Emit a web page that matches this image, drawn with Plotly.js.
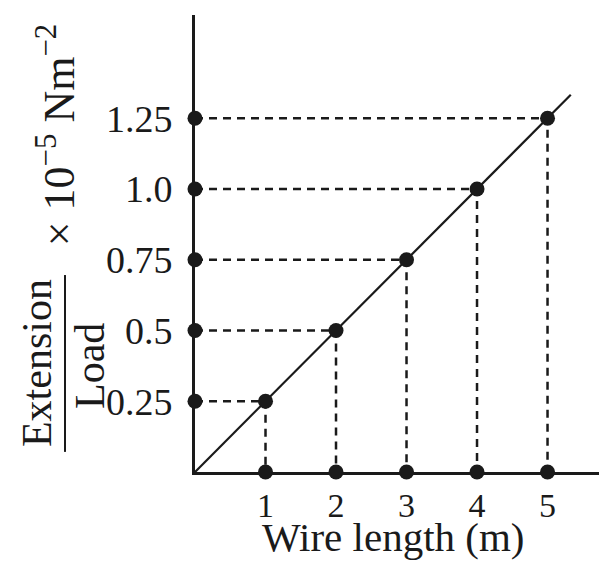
<!DOCTYPE html>
<html>
<head>
<meta charset="utf-8">
<script src="https://cdn.plot.ly/plotly-3.0.1.min.js"></script>
<style>
  html, body { margin: 0; padding: 0; background: #fff; }
  #chart { width: 614px; height: 571px; }
</style>
</head>
<body>
<div id="chart"></div>
<script>
// readings from the graph
const wireLength = [1, 2, 3, 4, 5]
const extPerLoad = [0.25, 0.5, 0.75, 1.0, 1.25]
const yTickText = ['0.25', '0.5', '0.75', '1.0', '1.25']
const fitX = [0, 5.33]
const fitY = [0, 1.333]

const serif = 'Liberation Serif, DejaVu Serif, serif'
const ink = '#1a1a1a'

let traces = []

// dashed guides from each axis to the point
for (let i = 0; i < wireLength.length; i++) {
    traces.push({
        x: [0, wireLength[i], wireLength[i]],
        y: [extPerLoad[i], extPerLoad[i], 0],
        mode: 'lines',
        line: { color: ink, width: 2.5, dash: '8px,6px' },
        hoverinfo: 'skip',
        cliponaxis: false
    })
}

// straight line through origin
traces.push({
    x: fitX,
    y: fitY,
    mode: 'lines',
    line: { color: ink, width: 2.2 },
    cliponaxis: false
})

let dot = { color: ink, size: 15 }

traces.push({ x: wireLength, y: extPerLoad, mode: 'markers', marker: dot, cliponaxis: false })
traces.push({ x: wireLength, y: wireLength.map(() => 0), mode: 'markers', marker: dot, cliponaxis: false })
traces.push({ x: extPerLoad.map(() => 0), y: extPerLoad, mode: 'markers', marker: dot, cliponaxis: false })

var layout = {
    width: 614,
    height: 571,
    margin: { l: 195, r: 15, t: 15, b: 99 },
    showlegend: false,
    paper_bgcolor: '#fff',
    plot_bgcolor: '#fff',
    font: { family: serif, color: ink },
    xaxis: {
        range: [0, 5.73],
        showgrid: false,
        zeroline: false,
        showline: true,
        linecolor: ink,
        linewidth: 3,
        tickvals: wireLength,
        ticktext: wireLength.map(String),
        ticks: 'outside',
        ticklen: 1,
        tickcolor: 'rgba(0,0,0,0)',
        tickfont: { family: serif, size: 34, color: ink }
    },
    yaxis: {
        range: [0, 1.615],
        showgrid: false,
        zeroline: false,
        showline: true,
        linecolor: ink,
        linewidth: 3,
        tickvals: extPerLoad,
        ticktext: yTickText,
        ticks: 'outside',
        ticklen: 12,
        tickcolor: 'rgba(0,0,0,0)',
        tickfont: { family: serif, size: 38, color: ink }
    },
    shapes: [{
        type: 'line', xref: 'paper', yref: 'paper',
        x0: -0.3218, x1: -0.3218, y0: 0.044, y1: 0.431,
        line: { color: ink, width: 2 }
    }],
    annotations: [
        { text: 'Wire length (m)', xref: 'paper', yref: 'paper', x: 0.49, y: -0.142,
          showarrow: false, xanchor: 'center', yanchor: 'middle',
          font: { family: serif, size: 41, color: ink } },
        { text: 'Extension', xref: 'paper', yref: 'paper', x: -0.391, y: 0.2385,
          textangle: -90, showarrow: false, xanchor: 'center', yanchor: 'middle',
          font: { family: serif, size: 42, color: ink } },
        { text: 'Load', xref: 'paper', yref: 'paper', x: -0.26, y: 0.232,
          textangle: -90, showarrow: false, xanchor: 'center', yanchor: 'middle',
          font: { family: serif, size: 42, color: ink } },
        { text: '× 10<sup>−5</sup> Nm<sup>−2</sup>', xref: 'paper', yref: 'paper', x: -0.344, y: 0.737,
          textangle: -90, showarrow: false, xanchor: 'center', yanchor: 'middle',
          font: { family: serif, size: 44, color: ink } }
    ]
}

Plotly.newPlot('chart', traces, layout, { staticPlot: true, displayModeBar: false })
</script>
</body>
</html>
